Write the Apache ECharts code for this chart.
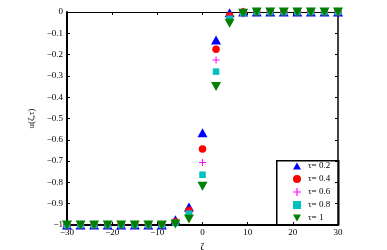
<!DOCTYPE html>
<html><head><meta charset="utf-8">
<script src="https://cdn.jsdelivr.net/npm/echarts@6/dist/echarts.min.js"></script>
<style>html,body{margin:0;padding:0;background:#fff}#c{width:387px;height:250px}</style>
</head><body><div id="c"></div>
<script>
var zeta = [-30,-27,-24,-21,-18,-15,-12,-9,-6,-3,0,3,6,9,12,15,18,21,24,27,30];
var tau02 = [-1,-1,-1,-1,-1,-1,-1,-1,-0.975,-0.915,-0.567,-0.131,-0.004,0,0,0,0,0,0,0,0];
var tau04 = [-1,-1,-1,-1,-1,-1,-1,-1,-0.985,-0.932,-0.643,-0.175,-0.018,0,0,0,0,0,0,0,0];
var tau06 = [-1,-1,-1,-1,-1,-1,-1,-1,-0.99,-0.94,-0.707,-0.225,-0.025,-0.002,0,0,0,0,0,0,0];
var tau08 = [-1,-1,-1,-1,-1,-1,-1,-1,-0.99,-0.947,-0.764,-0.28,-0.032,-0.003,0,0,0,0,0,0,0];
var tau10 = [-1,-1,-1,-1,-1,-1,-1,-1,-0.995,-0.972,-0.818,-0.35,-0.053,-0.006,0,0,0,0,0,0,0];
var names = ['τ= 0.2','τ= 0.4','τ= 0.6','τ= 0.8','τ= 1'];
var xTicks = {min:-30,max:30,interval:10};
var yTicks = {min:-1,max:0,interval:0.1};

function pairs(ys){return zeta.map(function(x,i){return [x,ys[i]];});}
var font = 'Liberation Serif';
var minus = function(v){ if (Math.abs(v)<1e-9) return '0'; var s = (Math.round(v*10)/10).toString(); return s.replace('-','\u2212'); };
var plusPath = 'path://M4.3,0 L5.7,0 L5.7,4.3 L10,4.3 L10,5.7 L5.7,5.7 L5.7,10 L4.3,10 L4.3,5.7 L0,5.7 L0,4.3 L4.3,4.3 Z';
var downTri = 'path://M0,0 L10,0 L5,9 Z';
var upTri = 'path://M5,0 L10,9 L0,9 Z';
var styles = [
  {sym: upTri, size:[10,9], color:'#0000ff'},
  {sym: 'circle', size:7.5, color:'#ff0000'},
  {sym: plusPath, size:7, color:'#ff00ff'},
  {sym: 'rect', size:6.5, color:'#00c0c0'},
  {sym: downTri, size:[10,9], color:'#008000'}
];
var datas = [tau02,tau04,tau06,tau08,tau10];
var series = datas.map(function(d,i){
  return {type:'scatter', name:names[i], data:pairs(d), symbol:styles[i].sym, symbolSize:styles[i].size,
    itemStyle:{color:styles[i].color, opacity:1}, clip:false, z:2+i, xAxisIndex:0, yAxisIndex:0};
});
var chart = echarts.init(document.getElementById('c'), null, {renderer:'canvas'});
chart.setOption({
  animation:false,
  backgroundColor:'#fff',
  grid:{left:67,right:49,top:12,bottom:25,containLabel:false,outerBoundsMode:'none'},
  xAxis:[{type:'value',min:xTicks.min,max:xTicks.max,interval:xTicks.interval,position:'bottom',
    name:'ζ',nameLocation:'middle',nameGap:14,nameTextStyle:{fontFamily:font,fontSize:10,color:'#000'},
    axisLine:{onZero:false,lineStyle:{color:'#000',width:2}},
    axisTick:{inside:true,length:3,lineStyle:{color:'#000'}},
    axisLabel:{fontFamily:font,fontSize:9,color:'#000',margin:3,formatter:minus},
    splitLine:{show:false}},
   {type:'value',min:xTicks.min,max:xTicks.max,interval:xTicks.interval,position:'top',
    axisLine:{onZero:false,lineStyle:{color:'#000',width:1.2}},
    axisTick:{inside:true,length:3,lineStyle:{color:'#000'}},
    axisLabel:{show:false},splitLine:{show:false}}],
  yAxis:[{type:'value',min:yTicks.min,max:yTicks.max,interval:yTicks.interval,position:'left',
    name:'u(ζ,τ)',nameLocation:'middle',nameGap:27,nameRotate:90,nameTextStyle:{fontFamily:font,fontSize:9,color:'#000'},
    axisLine:{onZero:false,lineStyle:{color:'#000',width:2}},
    axisTick:{inside:true,length:3,lineStyle:{color:'#000'}},
    axisLabel:{fontFamily:font,fontSize:9,color:'#000',margin:4,formatter:minus},
    splitLine:{show:false}},
   {type:'value',min:yTicks.min,max:yTicks.max,interval:yTicks.interval,position:'right',
    axisLine:{onZero:false,lineStyle:{color:'#000',width:1.5}},
    axisTick:{inside:true,length:3,lineStyle:{color:'#000'}},
    axisLabel:{show:false},splitLine:{show:false}}],
  legend:{orient:'vertical',left:276,top:160,padding:[1,4,1,17],itemGap:3,itemWidth:8,itemHeight:8,z:50,
    data:names,textStyle:{fontFamily:font,fontSize:9,color:'#000',lineHeight:10,padding:[0,0,0,2]},
    selectedMode:false},
  graphic:[{type:'rect',left:276,top:160,shape:{width:62,height:64},z:0,
    style:{fill:'#fff',stroke:'#000',lineWidth:1.5},silent:true}],
  series:series
});
</script></body></html>
